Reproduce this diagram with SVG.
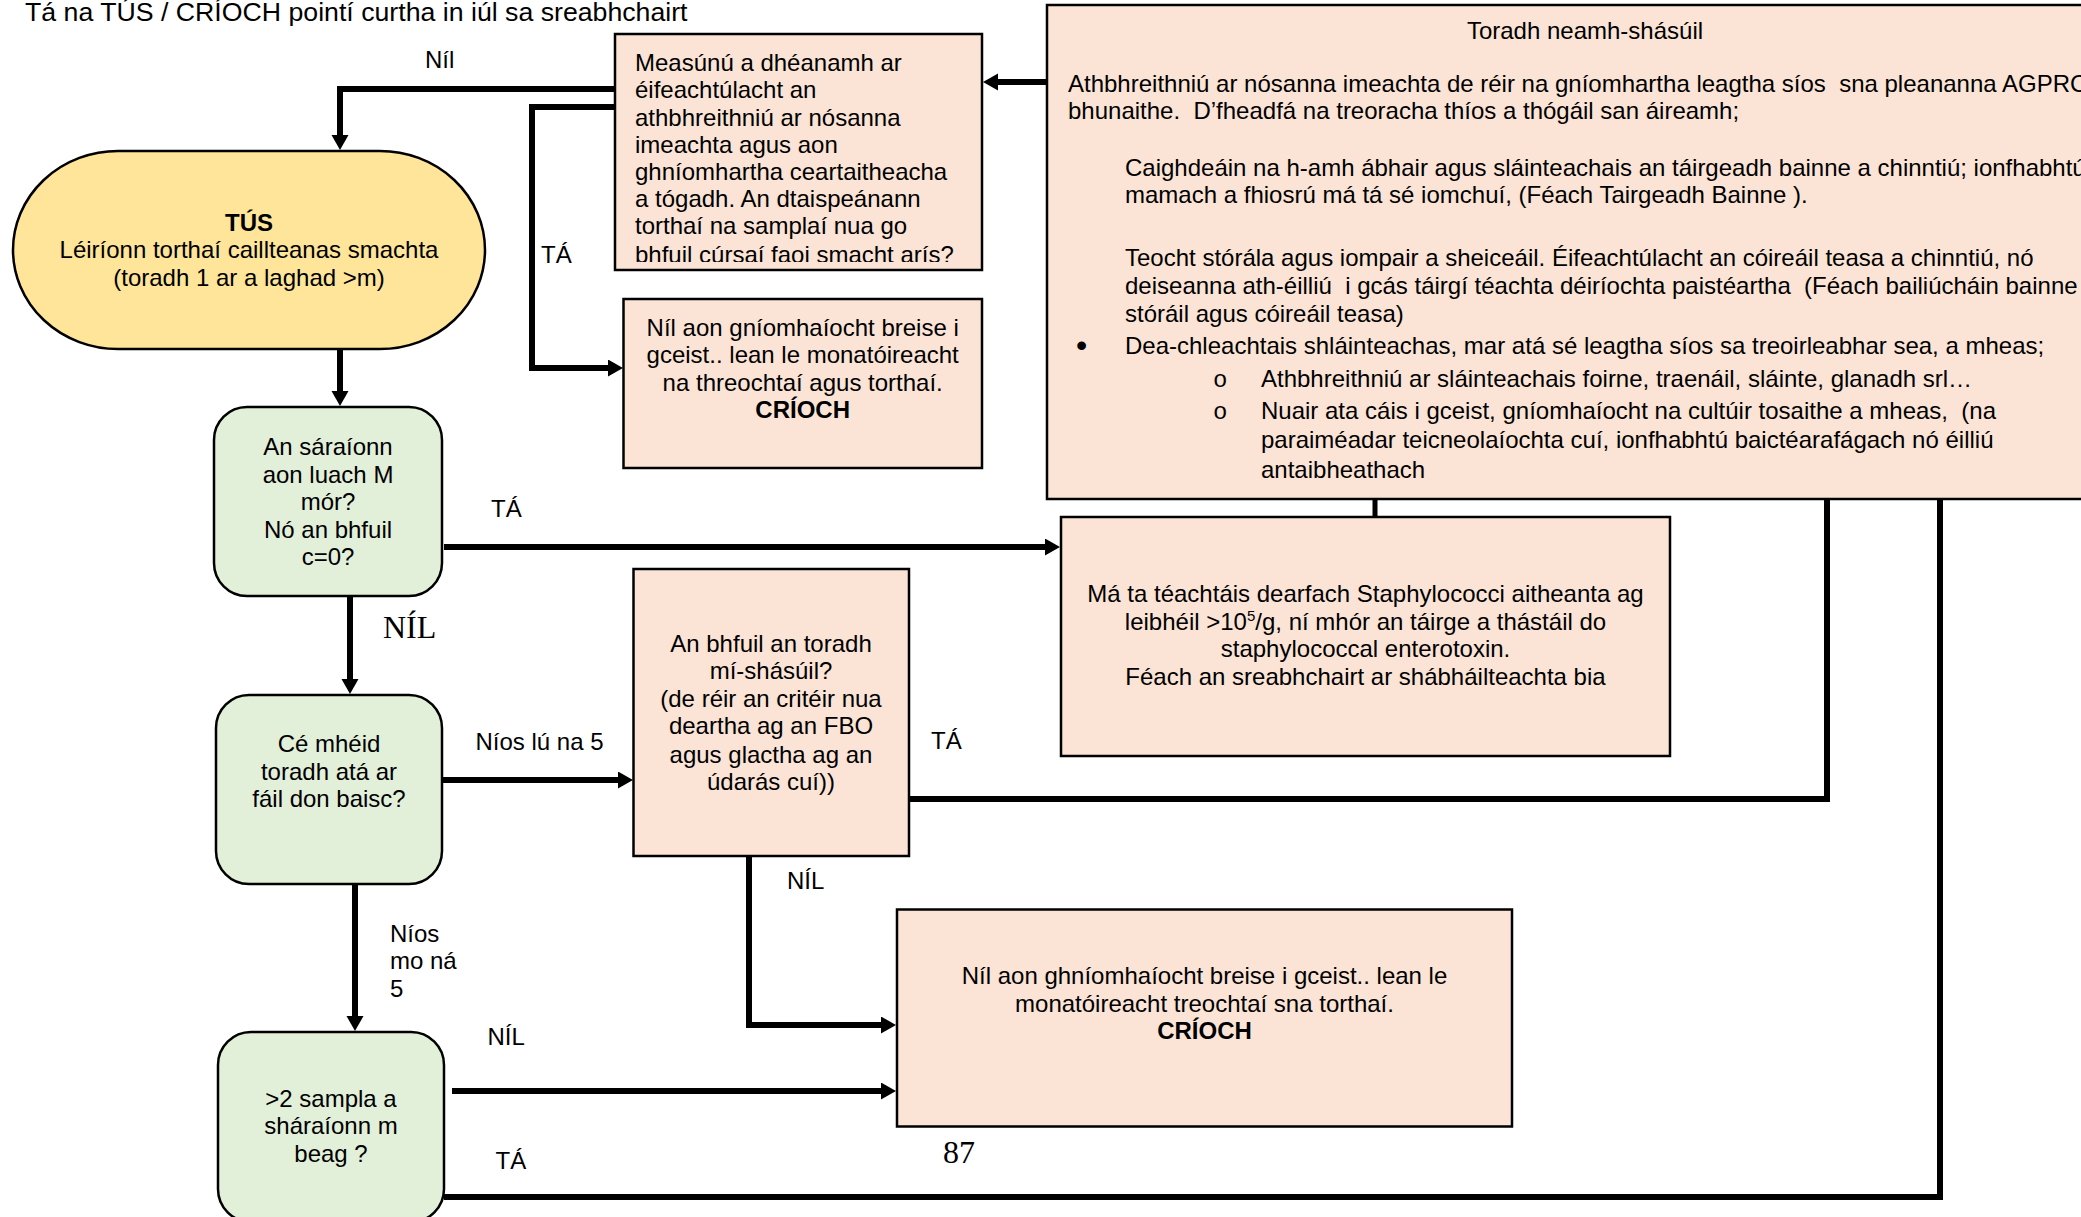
<svg xmlns="http://www.w3.org/2000/svg" width="2081" height="1217" viewBox="0 0 2081 1217">
<style>
.t{font-family:"Liberation Sans",Arial,sans-serif;font-size:24px;fill:#000}
.c{text-anchor:middle}
.b{font-weight:bold}
.s{font-family:"Liberation Serif","Times New Roman",serif;font-size:32px;fill:#000}
.m{font-family:"Liberation Mono","Courier New",monospace;font-size:24px;fill:#000}
.box{fill:#FBE4D5;stroke:#000;stroke-width:2.5}
.grn{fill:#E2EFD9;stroke:#000;stroke-width:2.5}
.yel{fill:#FFE599;stroke:#000;stroke-width:2.5}
.ln{fill:none;stroke:#000;stroke-width:6;stroke-linejoin:miter}
.la{fill:none;stroke:#000;stroke-width:6;stroke-linejoin:miter;marker-end:url(#ah)}
</style>
<defs>
<marker id="ah" markerUnits="userSpaceOnUse" markerWidth="16" markerHeight="18" refX="5" refY="8.5" orient="auto">
<path d="M0,0 L15,8.5 L0,17 z" fill="#000"/>
</marker>
<clipPath id="clipM"><rect x="615" y="34" width="367" height="228"/></clipPath>
</defs>
<rect width="2081" height="1217" fill="#fff"/>
<text class="t" x="25" y="21" style="font-size:26.7px">Tá na TÚS / CRÍOCH pointí curtha in iúl sa sreabhchairt</text>

<g id="node-big">
<rect class="box" x="1047" y="5" width="1100" height="494"/>
<text class="t c" x="1585" y="38.5">Toradh neamh-shásúil</text>
<text class="t" x="1068" y="92" xml:space="preserve">Athbhreithniú ar nósanna imeachta de réir na gníomhartha leagtha síos  sna pleananna AGPRC</text>
<text class="t" x="1068" y="118.5" xml:space="preserve">bhunaithe.  D’fheadfá na treoracha thíos a thógáil san áireamh;</text>
<text class="t" x="1125" y="176">Caighdeáin na h-amh ábhair agus sláinteachais an táirgeadh bainne a chinntiú; ionfhabhtú</text>
<text class="t" x="1125" y="202.5">mamach a fhiosrú má tá sé iomchuí, (Féach Tairgeadh Bainne ).</text>
<text class="t" x="1125" y="265.5">Teocht stórála agus iompair a sheiceáil. Éifeachtúlacht an cóireáil teasa a chinntiú, nó</text>
<text class="t" x="1125" y="294" xml:space="preserve">deiseanna ath-éilliú  i gcás táirgí téachta déiríochta paistéartha  (Féach bailiúcháin bainne</text>
<text class="t" x="1125" y="322.3">stóráil agus cóireáil teasa)</text>
<text class="t" x="1076" y="356" style="font-size:32px">•</text>
<text class="t" x="1125" y="354">Dea-chleachtais shláinteachas, mar atá sé leagtha síos sa treoirleabhar sea, a mheas;</text>
<text class="m" x="1213" y="387">o</text>
<text class="t" x="1261" y="387">Athbhreithniú ar sláinteachais foirne, traenáil, sláinte, glanadh srl…</text>
<text class="m" x="1213" y="419.3">o</text>
<text class="t" x="1261" y="419.3" xml:space="preserve">Nuair ata cáis i gceist, gníomhaíocht na cultúir tosaithe a mheas,  (na</text>
<text class="t" x="1261" y="448.3">paraiméadar teicneolaíochta cuí, ionfhabhtú baictéarafágach nó éilliú</text>
<text class="t" x="1261" y="478.3">antaibheathach</text>
</g>

<g id="node-measunu">
<rect class="box" x="615" y="34" width="367" height="236"/>
<g clip-path="url(#clipM)">
<text class="t" x="635" y="70.7">Measúnú a dhéanamh ar</text>
<text class="t" x="635" y="98.3">éifeachtúlacht an</text>
<text class="t" x="635" y="126">athbhreithniú ar nósanna</text>
<text class="t" x="635" y="152.5">imeachta agus aon</text>
<text class="t" x="635" y="180">ghníomhartha ceartaitheacha</text>
<text class="t" x="635" y="207">a tógadh. An dtaispeánann</text>
<text class="t" x="635" y="234">torthaí na samplaí nua go</text>
<text class="t" x="635" y="263">bhfuil cúrsaí faoi smacht arís?</text>
</g>
</g>

<g id="node-nil1">
<rect class="box" x="623.5" y="299" width="358.5" height="169"/>
<text class="t c" x="802.7" y="335.7">Níl aon gníomhaíocht breise i</text>
<text class="t c" x="802.7" y="363.3">gceist.. lean le monatóireacht</text>
<text class="t c" x="802.7" y="390.7">na threochtaí agus torthaí.</text>
<text class="t c b" x="802.7" y="418.3">CRÍOCH</text>
</g>

<g id="node-tus">
<rect class="yel" x="13" y="151" width="472" height="198" rx="105" ry="99"/>
<text class="t c b" x="249" y="230.7">TÚS</text>
<text class="t c" x="249" y="258.3">Léiríonn torthaí caillteanas smachta</text>
<text class="t c" x="249" y="285.7">(toradh 1 ar a laghad &gt;m)</text>
</g>

<g id="node-saraionn">
<rect class="grn" x="214" y="407" width="228" height="189" rx="33"/>
<text class="t c" x="328" y="455">An sáraíonn</text>
<text class="t c" x="328" y="482.7">aon luach M</text>
<text class="t c" x="328" y="510">mór?</text>
<text class="t c" x="328" y="537.7">Nó an bhfuil</text>
<text class="t c" x="328" y="565.3">c=0?</text>
</g>

<g id="node-mata">
<rect class="box" x="1061" y="517" width="609" height="239"/>
<text class="t c" x="1365.5" y="602.3">Má ta téachtáis dearfach Staphylococci aitheanta ag</text>
<text class="t c" x="1365.5" y="630">leibhéil &gt;10<tspan dy="-9" style="font-size:15px">5</tspan><tspan dy="9">/g, ní mhór an táirge a thástáil do</tspan></text>
<text class="t c" x="1365.5" y="657">staphylococcal enterotoxin.</text>
<text class="t c" x="1365.5" y="685">Féach an sreabhchairt ar shábháilteachta bia</text>
</g>

<g id="node-anbhfuil">
<rect class="box" x="633.5" y="569" width="275.5" height="287"/>
<text class="t c" x="771" y="651.7">An bhfuil an toradh</text>
<text class="t c" x="771" y="679.3">mí-shásúil?</text>
<text class="t c" x="771" y="707.3">(de réir an critéir nua</text>
<text class="t c" x="771" y="734.3">deartha ag an FBO</text>
<text class="t c" x="771" y="762.7">agus glactha ag an</text>
<text class="t c" x="771" y="790">údarás cuí))</text>
</g>

<g id="node-cemheid">
<rect class="grn" x="216" y="695" width="226" height="189" rx="33"/>
<text class="t c" x="329" y="751.7">Cé mhéid</text>
<text class="t c" x="329" y="780">toradh atá ar</text>
<text class="t c" x="329" y="806.7">fáil don baisc?</text>
</g>

<g id="node-final">
<rect class="box" x="897" y="909.5" width="615" height="217"/>
<text class="t c" x="1204.5" y="984.4">Níl aon ghníomhaíocht breise i gceist.. lean le</text>
<text class="t c" x="1204.5" y="1012">monatóireacht treochtaí sna torthaí.</text>
<text class="t c b" x="1204.5" y="1039.3">CRÍOCH</text>
</g>

<g id="node-gt2">
<rect class="grn" x="218" y="1032" width="226" height="190" rx="33"/>
<text class="t c" x="331" y="1106.7">&gt;2 sampla a</text>
<text class="t c" x="331" y="1134">sháraíonn m</text>
<text class="t c" x="331" y="1161.7">beag ?</text>
</g>

<g id="connectors">
<path class="la" d="M1047,82 H993"/>
<path class="la" d="M615,89 H340 V140"/>
<path class="la" d="M615,107 H532 V368 H613"/>
<path class="la" d="M340,349 V396"/>
<path class="la" d="M444,547 H1050"/>
<path class="la" d="M350,596 V684"/>
<path class="la" d="M442,780 H623"/>
<path class="la" d="M355,884 V1021"/>
<path class="la" d="M749,857 V1025 H886"/>
<path class="ln" d="M909,799 H1827 V499"/>
<path class="la" d="M452,1091 H886"/>
<path class="ln" d="M444,1197 H1940 V499"/>
<path class="ln" style="stroke-width:5" d="M1375,499 V517"/>
</g>

<g id="labels">
<text class="t" x="425" y="68.3">Níl</text>
<text class="t" x="541" y="263.3">TÁ</text>
<text class="t" x="491" y="517.3">TÁ</text>
<text class="s" x="383" y="638.3">NÍL</text>
<text class="t" x="475.5" y="750">Níos lú na 5</text>
<text class="t" x="931" y="749.3">TÁ</text>
<text class="t" x="787" y="889.3">NÍL</text>
<text class="t" x="390" y="941.7">Níos</text>
<text class="t" x="390" y="969.3">mo ná</text>
<text class="t" x="390" y="996.7">5</text>
<text class="t" x="487.5" y="1045">NÍL</text>
<text class="t" x="495.6" y="1169">TÁ</text>
<text class="s" x="943" y="1163.3">87</text>
</g>
</svg>
